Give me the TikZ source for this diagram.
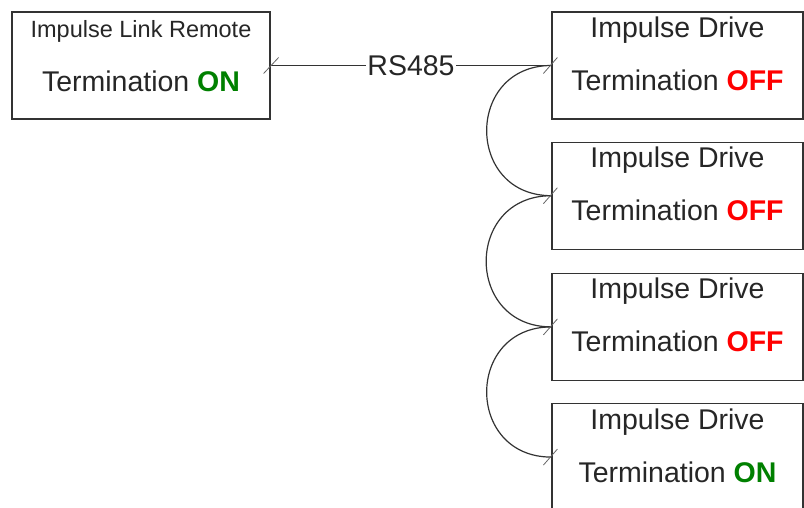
\documentclass[tikz,border=0pt]{standalone}
\usepackage{fontspec}
\setmainfont{Liberation Sans}
\usetikzlibrary{positioning}
\definecolor{ongreen}{RGB}{0,128,0}
\definecolor{offred}{RGB}{255,0,0}
\tikzset{
	unit/.style={draw=black!80, line width=1.2pt, minimum height=107pt, inner sep=0pt},
	drive/.style={unit, minimum width=251pt},
	txt/.style={anchor=base, inner sep=0pt, text=black!85, font=\fontsize{28.5}{34}\selectfont},
	wire/.style={draw=black!80, line width=1.2pt},
	glue/.style={draw=black!60, line width=0.8pt}
}

\begin{document}
\begin{tikzpicture}
			%%%%% START %%%%%
			
			\useasboundingbox (0, 0) rectangle (804pt, -508pt);
			
			\node[unit, minimum width=258pt] (rem) at (141pt, -65.5pt) {};
			\node[txt, font=\fontsize{23.5}{28}\selectfont] (remtop) at ([yshift=-26pt]rem.north) {Impulse Link Remote};
			\node[txt] (rembot) at ([yshift=-80pt]rem.north) {Termination \textbf{\color{ongreen}ON}};
			
			\node[drive] (d1) at (677.5pt, -65.5pt) {};
			\node[txt] (d1top) at ([yshift=-26pt]d1.north) {Impulse Drive};
			\node[txt] (d1bot) at ([yshift=-79pt]d1.north) {Termination \textbf{\color{offred}OFF}};
			
			\node[drive, below=22pt of d1] (d2) {};
			\node[txt] (d2top) at ([yshift=-26pt]d2.north) {Impulse Drive};
			\node[txt] (d2bot) at ([yshift=-79pt]d2.north) {Termination \textbf{\color{offred}OFF}};
			
			\node[drive, below=23pt of d2] (d3) {};
			\node[txt] (d3top) at ([yshift=-26pt]d3.north) {Impulse Drive};
			\node[txt] (d3bot) at ([yshift=-79pt]d3.north) {Termination \textbf{\color{offred}OFF}};
			
			\node[drive, below=22pt of d3] (d4) {};
			\node[txt] (d4top) at ([yshift=-26pt]d4.north) {Impulse Drive};
			\node[txt] (d4bot) at ([yshift=-79pt]d4.north) {Termination \textbf{\color{ongreen}ON}};
			
			\draw[wire] (rem.east) -- node[fill=white, inner sep=1pt, text=black!85, font=\fontsize{28.5}{34}\selectfont] (bus) {RS485} (d1.west);
			
			\draw[wire] (d1.west) to[out=180, in=180, looseness=1.7] (d2.west);
			\draw[wire] (d2.west) to[out=180, in=180, looseness=1.7] (d3.west);
			\draw[wire] (d3.west) to[out=180, in=180, looseness=1.7] (d4.west);
			
			\draw[glue] ([shift={(-7pt,-8pt)}]rem.east) -- ([shift={(8pt,8pt)}]rem.east);
			\draw[glue] ([shift={(-8pt,-8pt)}]d1.west) -- ([shift={(6pt,8pt)}]d1.west);
			\draw[glue] ([shift={(-8pt,-8pt)}]d2.west) -- ([shift={(6pt,8pt)}]d2.west);
			\draw[glue] ([shift={(-8pt,-8pt)}]d3.west) -- ([shift={(6pt,8pt)}]d3.west);
			\draw[glue] ([shift={(-8pt,-8pt)}]d4.west) -- ([shift={(6pt,8pt)}]d4.west);
			
			%%%%% END %%%%%
\end{tikzpicture}
\end{document}
